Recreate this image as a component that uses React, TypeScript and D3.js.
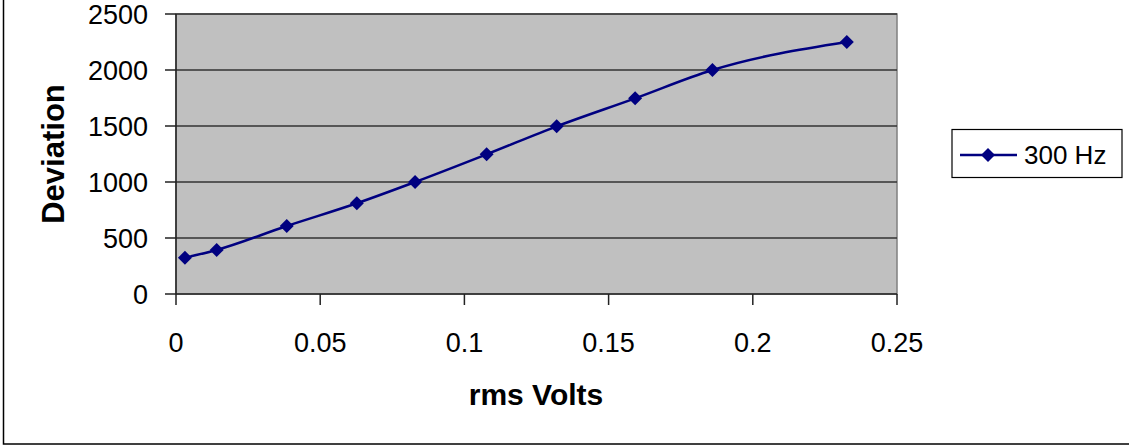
import React from 'react'
import * as d3 from 'd3'

// readings (300 Hz series)
const volts = [0.0031, 0.0141, 0.0384, 0.0627, 0.0829, 0.1077, 0.132, 0.1592, 0.186, 0.2326]
const deviation = [324, 393, 607, 810, 1000, 1247, 1497, 1747, 2000, 2250]
const xTicks = [0, 0.05, 0.1, 0.15, 0.2, 0.25]
const yTicks = [0, 500, 1000, 1500, 2000, 2500]
const seriesName = '300 Hz'

const W = 1129
const H = 446
const font = 'Liberation Sans, Arial, sans-serif'
const navy = '#000080'

function App() {
  const left = 176, right = 897, top = 14, bottom = 294

  const x = d3.scaleLinear().domain([0, 0.25]).range([left, right])
  const y = d3.scaleLinear().domain([0, 2500]).range([bottom, top])

  const pts = volts.map((v, i) => ({ x: x(v), y: y(deviation[i]) }))
  const line = d3.line<{ x: number, y: number }>()
    .x(d => d.x)
    .y(d => d.y)
    .curve(d3.curveMonotoneX)

  const diamond = (cx: number, cy: number, r = 7) =>
    `M${cx},${cy - r}L${cx + r},${cy}L${cx},${cy + r}L${cx - r},${cy}Z`

  return (
    <svg width={W} height={H} style={{ position: 'absolute', left: 0, top: 0, background: '#fff' }}>
      {/* chart frame, only left and bottom edges are in view */}
      <rect x={3.5} y={-10} width={W + 20} height={454} fill="none" stroke="#000" strokeWidth={1.5} />

      <rect x={left} y={top} width={right - left} height={bottom - top} fill="#c0c0c0" stroke="#808080" strokeWidth={1.5} />

      {yTicks.slice(1).map(t => (
        <line key={t} x1={left} x2={right} y1={y(t)} y2={y(t)} stroke="#333" strokeWidth={1.5} />
      ))}

      {/* axes */}
      <line x1={left} x2={left} y1={top} y2={bottom} stroke="#222" strokeWidth={1.5} />
      <line x1={left} x2={right} y1={bottom} y2={bottom} stroke="#222" strokeWidth={1.5} />
      {yTicks.map(t => (
        <g key={t}>
          <line x1={left - 11} x2={left} y1={y(t)} y2={y(t)} stroke="#222" strokeWidth={1.5} />
          <text x={148} y={y(t) + 10} textAnchor="end" fontFamily={font} fontSize={27}>{t}</text>
        </g>
      ))}
      {xTicks.map(t => (
        <g key={t}>
          <line x1={x(t)} x2={x(t)} y1={bottom} y2={bottom + 11} stroke="#222" strokeWidth={1.5} />
          <text x={x(t)} y={352} textAnchor="middle" fontFamily={font} fontSize={27}>{String(t)}</text>
        </g>
      ))}

      <text x={536} y={405} textAnchor="middle" fontFamily={font} fontSize={30} fontWeight="bold">rms Volts</text>
      <text transform="translate(64,154) rotate(-90)" textAnchor="middle" fontFamily={font} fontSize={31} fontWeight="bold">Deviation</text>

      <path d={line(pts) || ''} fill="none" stroke={navy} strokeWidth={2.5} />
      {pts.map((p, i) => <path key={i} d={diamond(p.x, p.y)} fill={navy} />)}

      {/* legend */}
      <rect x={952} y={129.5} width={170} height={48} fill="#fff" stroke="#000" strokeWidth={1.2} />
      <line x1={960} x2={1017} y1={155} y2={155} stroke={navy} strokeWidth={2.5} />
      <path d={diamond(988, 155)} fill={navy} />
      <text x={1024} y={164} fontFamily={font} fontSize={26}>{seriesName}</text>
    </svg>
  )
}

export default App
